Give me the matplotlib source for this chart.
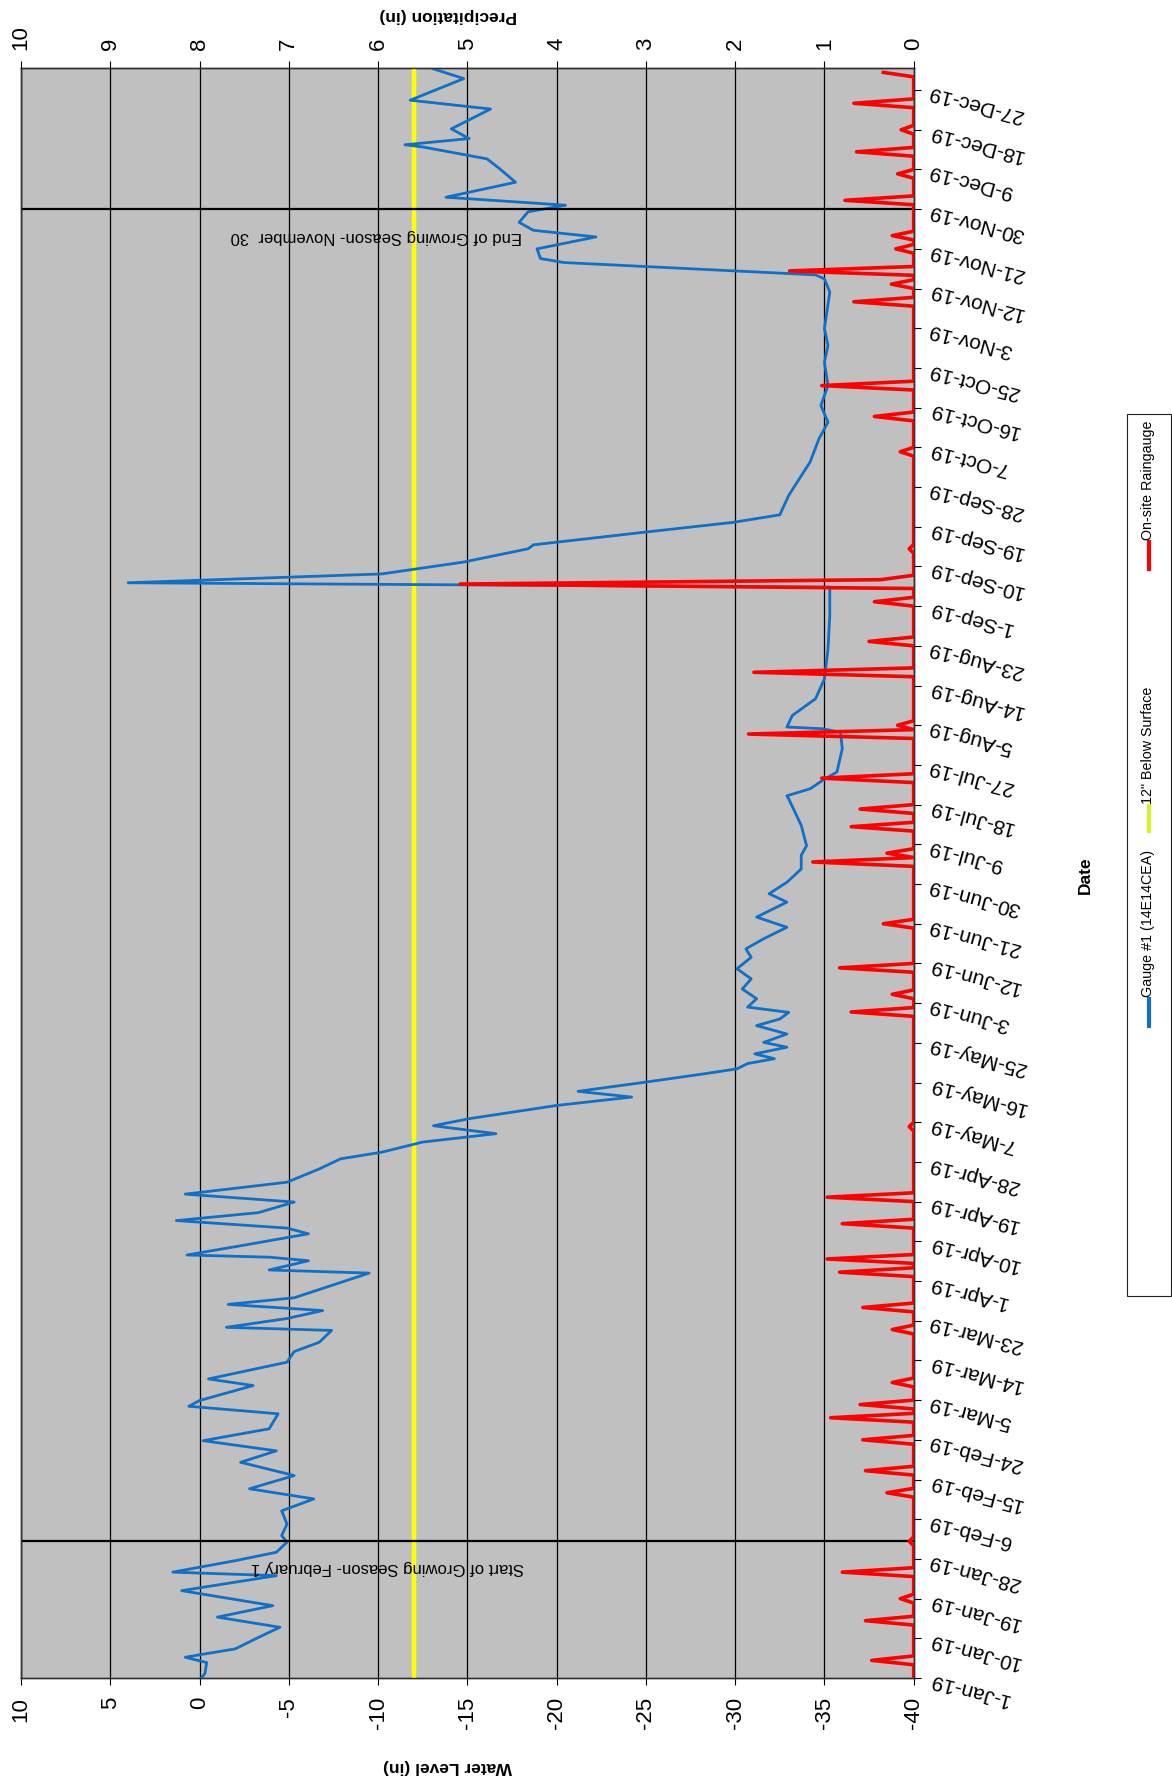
import datetime as dt
import numpy as np
import matplotlib
matplotlib.use("Agg")
import matplotlib.pyplot as plt
from matplotlib import font_manager
from matplotlib.lines import Line2D
from matplotlib.patches import Rectangle

plt.rcParams['font.family'] = ['Liberation Sans', 'DejaVu Sans']
plt.rcParams['axes.unicode_minus'] = False
_names = {f.name for f in font_manager.fontManager.ttflist}
legend_font = 'Liberation Sans Narrow' if 'Liberation Sans Narrow' in _names else 'Liberation Sans'

# ---- data (days counted from 1-Jan-2019) ----
start = dt.date(2019, 1, 1)
tick_days = list(range(0, 361, 9))

# Gauge #1 (14E14CEA) water level, inches
wl_days = [0, 1, 3.5, 4.7, 5.4, 6.6, 9.2, 11.5, 13.8, 16.4, 19.8, 23.2, 24, 26.6, 28.5,
           30.8, 32.3, 34.9, 37.9, 40.6, 42.9, 45.9, 48.9, 51.5, 53.8, 56.5, 59.9,
           61.6, 62.9, 66.3, 67.8, 71.6, 74, 76.1, 78.8, 79.5, 81.5, 83.3, 84.7, 86.2,
           89, 91.8, 92.5, 94.6, 95.4, 95.9, 98.2, 100.7, 102, 103.7, 105.5, 107.9,
           109.7, 112.4, 115.4, 117.7, 119.2, 121.5, 123.4, 125.2, 126.8, 129.8, 131.7,
           133, 135.1, 137, 138.1, 139.3, 140.4, 141.5, 143, 144.1, 146, 147.9, 149.4,
           150.9, 152.1, 154, 156.2, 158.5, 160.8, 163.4, 165.3, 167.6, 170.2, 172.5,
           175.9, 177.8, 180.4, 183.4, 186.5, 188.7, 193.3, 199.3, 200, 201.6, 203.5,
           205.4, 210.7, 214.4, 215.2, 215.6, 218.2, 222, 226.5, 233.3, 240.9, 247.3,
           248.3, 250.3, 253, 256, 256.9, 259.8, 262, 263.7, 268.1, 275.7, 281, 284.7,
           288.5, 293, 298.3, 302.1, 305.9, 314.2, 317.2, 318.1, 320.9, 321.8, 324,
           326.7, 328.2, 330, 332.4, 333.9, 335.7, 339.1, 342.2, 344.4, 347.1, 347.6,
           349, 351.2, 355.7, 357.7, 362.6, 364.8]
wl_vals = [-0.1, -0.3, -0.4, 0.8, -0.2, -2.0, -3.3, -4.5, -1.0, -4.1, 1.0, -4.3, 1.5, -2.0, -4.3,
           -4.9, -4.6, -4.9, -4.6, -6.4, -2.8, -5.3, -2.3, -4.3, -0.2, -3.9, -4.4,
           0.6, 0.0, -3.0, -0.5, -4.9, -5.3, -6.7, -7.4, -1.5, -4.9, -6.9, -1.6, -5.3,
           -7.4, -9.5, -3.9, -6.1, -3.9, 0.7, -2.6, -6.1, -4.9, 1.3, -3.3, -5.3,
           0.8, -4.9, -6.7, -7.9, -10.2, -12.5, -16.6, -13.1, -15.1, -20.0, -24.2,
           -21.2, -25.0, -28.3, -30.1, -30.7, -32.2, -31.1, -32.9, -31.6, -32.9, -31.2, -32.5,
           -33.0, -30.7, -31.2, -30.4, -30.9, -30.1, -30.9, -30.6, -31.6, -32.9, -31.2,
           -32.9, -31.9, -32.9, -33.7, -33.7, -34.0, -33.7, -33.0, -32.9, -34.2, -34.9,
           -35.7, -36.0, -35.9, -34.9, -32.9, -33.2, -34.5, -35.0, -35.2, -35.3, -35.3,
           4.0, -10.2, -14.8, -18.4, -18.7, -25.0, -29.9, -32.5, -33.0, -34.2, -34.7, -35.2,
           -34.8, -35.2, -35.0, -35.2, -35.0, -35.3, -35.0, -34.5, -20.4, -19.1, -18.9,
           -22.2, -18.7, -17.9, -18.4, -20.5, -13.8, -17.7, -16.8, -16.1, -12.5, -11.5,
           -15.1, -14.1, -16.3, -11.8, -14.8, -13.1]

# 12" below surface reference level
surface_ref = -12

# On-site raingauge, inches (days with rain; other days 0)
rain_days = [4, 13, 18, 24, 31, 42, 47, 54, 59, 62, 67, 79, 84, 92, 95, 103, 109, 125,
             151, 155, 161, 171, 185, 187, 193, 197, 204, 214, 216, 228, 235, 244, 248,
             249, 256, 278, 286, 293, 312, 316, 319, 324, 327, 335, 341, 346, 351, 357, 364]
rain_vals = [0.47, 0.54, 0.15, 0.8, 0.05, 0.3, 0.54, 0.57, 0.93, 0.6, 0.24, 0.24, 0.57, 0.83,
             0.97, 0.8, 0.97, 0.05, 0.7, 0.24, 0.83, 0.34, 1.13, 0.3, 0.7, 0.6, 1.03, 1.85,
             0.18, 1.79, 0.5, 0.44, 5.08, 0.37, 0.05, 0.15, 0.44, 1.03, 0.67, 0.25, 1.39,
             0.2, 0.24, 0.77, 0.18, 0.64, 0.14, 0.67, 0.34]

season_start = 31   # 1-Feb
season_end = 333    # 30-Nov

precip_days = np.arange(365)
precip = np.zeros(365)
precip[rain_days] = rain_vals

tick_labels = [(start + dt.timedelta(days=d)).strftime('%-d-%b-%y') for d in tick_days]

# ---- figure (chart drawn turned on its side) ----
W, H = 1172, 1781
fig = plt.figure(figsize=(W / 100, H / 100), dpi=100)
ax = fig.add_axes([21 / W, 102 / H, 892.7 / W, 1610 / H])
ax.set_facecolor('#C0C0C0')

ax.set_xlim(10, -40)
ax.set_xticks(range(10, -41, -5))
ax.set_ylim(0, 365)
ax.grid(axis='x', color='black', lw=0.9)
ax.set_axisbelow(True)

ax.plot([surface_ref, surface_ref], [0, 365], color='#FFFF00', lw=3.2, zorder=3)
ax.plot(wl_vals, wl_days, color='#1070C8', lw=2.0, zorder=4)
ax.axhline(season_start, color='black', lw=1.6, zorder=5)
ax.axhline(season_end, color='black', lw=1.6, zorder=5)

ax.text(-10.5, 25.2, 'Start of Growing Season- February 1', rotation=180,
        ha='center', va='center', fontsize=12, zorder=6)
ax.text(-9.9, 327.1, 'End of Growing Season- November  30', rotation=180,
        ha='center', va='center', fontsize=12, zorder=6)

ax.tick_params(axis='x', direction='out', length=5, width=0.8, pad=8,
               labelsize=16, labelrotation=90)
ax.yaxis.tick_right()
ax.set_yticks(tick_days)
ax.set_yticklabels(tick_labels, rotation=165, ha='right', va='center',
                   rotation_mode='anchor', fontsize=15)
ax.tick_params(axis='y', direction='out', length=5, width=0.8, pad=6)

ax2 = ax.twiny()
ax2.set_xlim(10, 0)
ax2.set_xticks(range(10, -1, -1))
ax2.plot(precip, precip_days, color='#FF0000', lw=2.6, zorder=5)
ax2.tick_params(axis='x', direction='out', length=5, width=0.8, pad=8.5,
                labelsize=16, labelrotation=90)

for a in (ax, ax2):
    for s in a.spines.values():
        s.set_color('#303030')
        s.set_linewidth(1.0)

fig.text(448 / W, 1 - 1767 / H, 'Water Level (in)', rotation=180, ha='center',
         va='center', fontsize=12.5, fontweight='bold')
fig.text(448 / W, 1 - 16 / H, 'Precipitation (in)', rotation=180, ha='center',
         va='center', fontsize=12.5, fontweight='bold')
fig.text(1085 / W, 1 - 875 / H, 'Date', rotation=90, ha='center',
         va='center', fontsize=12.5, fontweight='bold')

# legend (rotated with the chart)
fig.add_artist(Rectangle((1127 / W, 1 - 1297 / H), 44 / W, 882 / H,
                         transform=fig.transFigure, fill=False,
                         edgecolor='#202020', lw=0.8))
legend_items = [('Gauge #1 (14E14CEA)', '#1070C8', 1027, 1000),
                ('12" Below Surface', '#D8F028', 832, 807),
                ('On-site Raingauge', '#FF0000', 570, 543)]
for label, col, y0, y1 in legend_items:
    fig.add_artist(Line2D([1149 / W, 1149 / W], [1 - y0 / H, 1 - y1 / H],
                          transform=fig.transFigure, color=col, lw=3))
    fig.text(1148 / W, 1 - (y1 - 3) / H, label, rotation=90, ha='center',
             va='bottom', fontsize=10.3, family=legend_font)

fig.savefig('out.png', dpi=100)
